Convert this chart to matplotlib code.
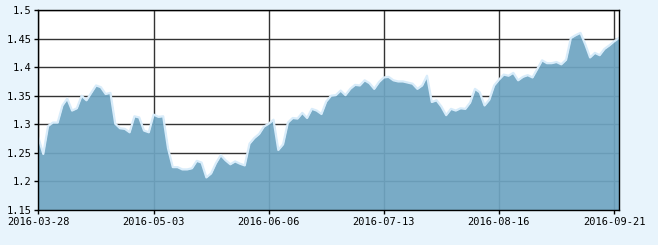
import matplotlib
matplotlib.use('Agg')
import matplotlib.pyplot as plt
import numpy as np

# daily net values, one per trading day from 2016-03-28
nav = [1.276, 1.248, 1.297, 1.303, 1.303, 1.333, 1.345, 1.324, 1.328, 1.350,
       1.342, 1.355, 1.368, 1.365, 1.353, 1.355, 1.301, 1.293, 1.292, 1.286,
       1.314, 1.312, 1.289, 1.286, 1.317, 1.313, 1.314, 1.258, 1.225, 1.225,
       1.221, 1.221, 1.223, 1.236, 1.233, 1.207, 1.214, 1.232, 1.246, 1.237,
       1.230, 1.235, 1.231, 1.228, 1.266, 1.276, 1.283, 1.296, 1.301, 1.308,
       1.255, 1.265, 1.303, 1.311, 1.310, 1.320, 1.311, 1.327, 1.324, 1.318,
       1.340, 1.350, 1.351, 1.359, 1.351, 1.362, 1.369, 1.368, 1.377, 1.372,
       1.362, 1.374, 1.382, 1.383, 1.377, 1.375, 1.375, 1.373, 1.371, 1.362,
       1.368, 1.385, 1.339, 1.342, 1.331, 1.316, 1.327, 1.324, 1.328, 1.327,
       1.338, 1.362, 1.356, 1.333, 1.343, 1.368, 1.378, 1.387, 1.385, 1.390,
       1.377, 1.383, 1.386, 1.382, 1.397, 1.412, 1.407, 1.407, 1.409, 1.405,
       1.413, 1.451, 1.456, 1.460, 1.440, 1.417, 1.425, 1.421, 1.432, 1.438,
       1.445, 1.451]

# which trading day each date label belongs to
tick_days = [0, 24, 48, 72, 96, 120]
tick_labels = ['2016-03-28', '2016-05-03', '2016-06-06',
               '2016-07-13', '2016-08-16', '2016-09-21']
y_ticks = [1.15, 1.2, 1.25, 1.3, 1.35, 1.4, 1.45, 1.5]
y_labels = ['1.15', '1.2', '1.25', '1.3', '1.35', '1.4', '1.45', '1.5']

x = np.arange(len(nav))

fig = plt.figure(figsize=(6.58, 2.45), dpi=100, facecolor='#e8f4fc')
ax = fig.add_axes([0.0585, 0.143, 0.882, 0.816])
ax.set_facecolor('white')

# nearly opaque fill so the grid only shows faintly through it
ax.fill_between(x, 1.15, nav, color='#6fa5c2', alpha=0.93, lw=0, zorder=2)
ax.plot(x, nav, color='#d8ecfa', lw=1.6, zorder=3)

ax.set_xlim(0, len(nav) - 1)
ax.set_ylim(1.15, 1.5)
ax.set_xticks(tick_days)
ax.set_xticklabels(tick_labels)
ax.set_yticks(y_ticks)
ax.set_yticklabels(y_labels)

ax.grid(True, color='#333333', lw=1, zorder=1)
ax.set_axisbelow(True)
for s in ax.spines.values():
    s.set_color('black')
    s.set_linewidth(1)
    s.set_zorder(4)

ax.tick_params(direction='out', length=3, width=1, color='black',
               labelsize=7.5, pad=2)
for lab in ax.get_xticklabels() + ax.get_yticklabels():
    lab.set_family('DejaVu Sans Mono')

fig.savefig('out.png', dpi=100, facecolor=fig.get_facecolor())
